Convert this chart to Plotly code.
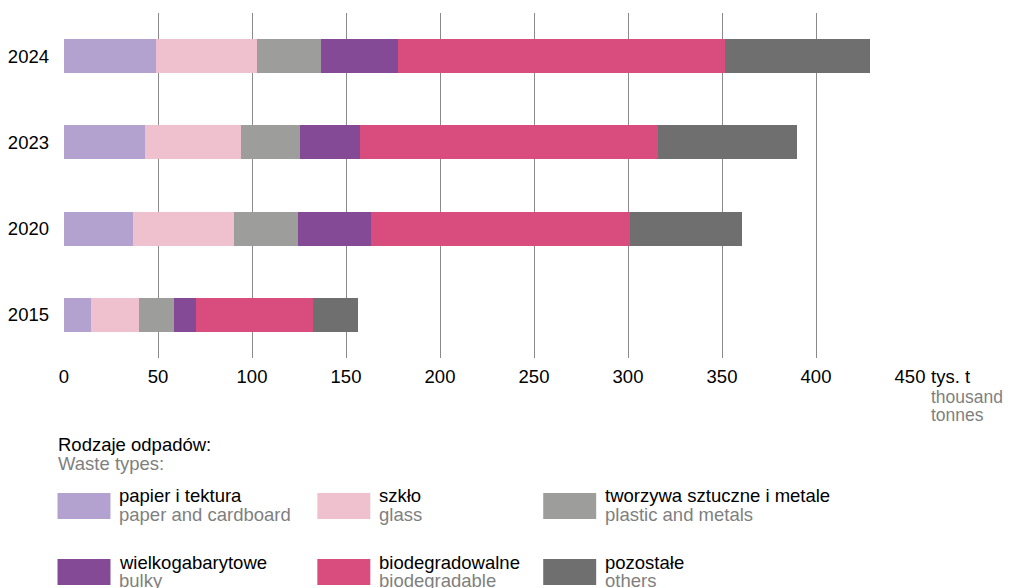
import plotly.graph_objects as go

years = ["2015", "2020", "2023", "2024"]
series_pl = ["papier i tektura", "szkło", "tworzywa sztuczne i metale",
             "wielkogabarytowe", "biodegradowalne", "pozostałe"]
series_en = ["paper and cardboard", "glass", "plastic and metals",
             "bulky", "biodegradable", "others"]
papier = [14.6, 36.9, 43.3, 49.1]
szklo = [25.5, 53.5, 50.6, 53.6]
tworzywa = [18.2, 34.2, 31.8, 34.1]
wielko = [11.7, 38.8, 31.8, 40.6]
bio = [62.4, 137.8, 158.2, 174.2]
pozostale = [24.2, 59.2, 74.0, 76.9]
colors = ["#b3a2cf", "#efc0ce", "#9d9d9c", "#844a95", "#d94c7e", "#706f6f"]
x_ticks = [0, 50, 100, 150, 200, 250, 300, 350, 400, 450]

values = [papier, szklo, tworzywa, wielko, bio, pozostale]

FONT = "Liberation Sans, Arial, sans-serif"
FS = 18.5
GRAY = "#7f7f7f"
OFF = 8  # page body margin
W, H = 1012 - OFF, 588 - OFF
L, R, T, B = 63.5 - OFF, 910 - OFF, 13 - OFF, 358 - OFF

fig = go.Figure()
for name, vals, col in zip(series_pl, values, colors):
    fig.add_trace(go.Bar(y=years, x=vals, orientation="h", name=name,
                         marker=dict(color=col, line=dict(width=0)),
                         showlegend=False))


def px_x(px):
    return (px - OFF - L) / (R - L)


def px_y(py):
    return (B - (py - OFF)) / (B - T)


shapes = []
annotations = []


def txt(x, y, s, color, size=FS):
    annotations.append(dict(x=px_x(x), y=px_y(y), xref="paper", yref="paper",
                            text=s, showarrow=False, xanchor="left", yanchor="middle",
                            xshift=-2, font=dict(family=FONT, size=size, color=color)))


# unit labels
txt(931, 376, "tys. t", "#000")
txt(931, 397, "thousand", GRAY, 17.5)
txt(931, 415, "tonnes", GRAY, 17.5)

# legend title
txt(57, 444, "Rodzaje odpadów:", "#000")
txt(57, 463, "Waste types:", GRAY)

col_x = [57, 317, 543]
row_y = [493, 559]
for i, (pl, en, col) in enumerate(zip(series_pl, series_en, colors)):
    r, c = divmod(i, 3)
    x0 = col_x[c]
    y0 = row_y[r]
    shapes.append(dict(type="rect", xref="paper", yref="paper",
                       x0=px_x(x0), x1=px_x(x0 + 53), y0=px_y(y0), y1=px_y(y0 + 26),
                       fillcolor=col, line=dict(width=0)))
    txt(x0 + 62, y0 + 3, pl, "#000")
    txt(x0 + 62, y0 + 21, en, GRAY)

fig.update_layout(
    width=W, height=H,
    barmode="stack", bargap=0.607,
    margin=dict(l=L, r=W - R, t=T, b=H - B, pad=0),
    paper_bgcolor="white", plot_bgcolor="white",
    font=dict(family=FONT, size=FS, color="#000"),
    xaxis=dict(range=[0, 450], tickvals=x_ticks, ticktext=[str(v) for v in x_ticks],
               showgrid=True, gridcolor="#8a8a8a", gridwidth=1, automargin=False,
               zeroline=False, showline=False, ticks="", ticklabelstandoff=5,
               tickfont=dict(family=FONT, size=FS, color="#000")),
    yaxis=dict(categoryorder="array", categoryarray=years, range=[-0.5, 3.5],
               showgrid=False, zeroline=False, showline=False, ticks="",
               ticklabelstandoff=14, automargin=False,
               tickfont=dict(family=FONT, size=FS, color="#000")),
    shapes=shapes, annotations=annotations,
)

fig.write_html("out.html")
